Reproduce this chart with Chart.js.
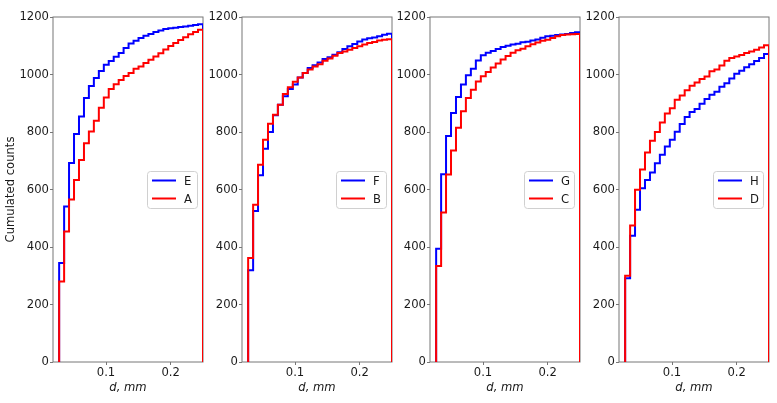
<!DOCTYPE html>
<html>
<head>
<meta charset="utf-8">
<script src="https://cdn.jsdelivr.net/npm/chart.js@4"></script>
<style>
    body { margin: 0; background: #fff; }
    #wrap { position: relative; width: 777px; height: 403px; overflow: hidden; }
    #wrap canvas { position: absolute; top: 0; }
</style>
</head>
<body>
<div id="wrap"></div>
<script>
// Bin edges (d, mm) shared by all panels
const edges = [0.0275, 0.0352, 0.0428, 0.0505, 0.0582, 0.0659, 0.0735, 0.0812, 0.0889, 0.0966,
               0.1042, 0.1119, 0.1196, 0.1272, 0.1349, 0.1426, 0.1503, 0.1579, 0.1656, 0.1733,
               0.1810, 0.1886, 0.1963, 0.2040, 0.2116, 0.2193, 0.2270, 0.2347, 0.2423, 0.2500];
const xTicks = [0.1, 0.2];
const xMin = 0.018;
const xMax = 0.25;

// Cumulated counts per bin
const countsE = [344, 541, 692, 793, 854, 918, 960, 988, 1012, 1034, 1047, 1062, 1075, 1092, 1108,
                 1117, 1127, 1135, 1141, 1148, 1153, 1158, 1161, 1163, 1165, 1167, 1170, 1172, 1175];
const countsA = [280, 454, 565, 633, 703, 761, 802, 839, 884, 920, 950, 966, 981, 995, 1005,
                 1020, 1028, 1040, 1051, 1063, 1074, 1087, 1099, 1110, 1120, 1130, 1140, 1148, 1156];
const countsF = [319, 525, 650, 742, 800, 858, 895, 924, 950, 965, 990, 1005, 1023, 1032, 1042,
                 1054, 1060, 1069, 1077, 1089, 1098, 1106, 1115, 1122, 1126, 1129, 1133, 1138, 1142];
const countsB = [362, 547, 686, 773, 829, 860, 895, 932, 956, 975, 990, 1005, 1017, 1028, 1036,
                 1048, 1056, 1065, 1075, 1080, 1086, 1092, 1098, 1104, 1110, 1113, 1118, 1121, 1123];
const countsG = [394, 653, 786, 866, 922, 965, 997, 1020, 1049, 1067, 1076, 1082, 1089, 1096, 1100,
                 1104, 1107, 1112, 1114, 1118, 1122, 1128, 1133, 1135, 1137, 1139, 1141, 1144, 1147];
const countsC = [334, 520, 652, 736, 815, 872, 918, 947, 976, 994, 1009, 1024, 1038, 1052, 1064,
                 1076, 1084, 1090, 1098, 1105, 1111, 1117, 1121, 1127, 1133, 1137, 1139, 1140, 1141];
const countsH = [291, 439, 530, 604, 633, 659, 691, 721, 750, 773, 801, 828, 852, 870, 880,
                 898, 915, 930, 940, 957, 970, 986, 1003, 1013, 1025, 1036, 1047, 1057, 1071];
const countsD = [300, 475, 599, 670, 729, 770, 800, 833, 864, 883, 912, 927, 945, 961, 972,
                 984, 993, 1011, 1017, 1031, 1048, 1057, 1063, 1068, 1075, 1080, 1086, 1094, 1102];

const blueLabels = ['E', 'F', 'G', 'H'];
const redLabels = ['A', 'B', 'C', 'D'];
const blueCounts = [countsE, countsF, countsG, countsH];
const redCounts = [countsA, countsB, countsC, countsD];

Chart.defaults.font.family = "'DejaVu Sans', sans-serif";
Chart.defaults.font.size = 11.6;
Chart.defaults.color = '#1a1a1a';

const spineColor = '#777';

// outline of a cumulative step histogram
function stepPoints(counts) {
    const last = edges.length - 1;
    const pts = [{ x: edges[0], y: 0 }];
    counts.forEach((c, i) => pts.push({ x: edges[i], y: c }));
    pts.push({ x: edges[last], y: counts[counts.length - 1] });
    pts.push({ x: edges[last], y: 0 });
    return pts;
}

// box around the plot area
const frame = {
    id: 'frame',
    beforeDatasetsDraw(chart) {
        const a = chart.chartArea;
        const ctx = chart.ctx;
        ctx.save();
        ctx.strokeStyle = spineColor;
        ctx.lineWidth = 1;
        ctx.strokeRect(a.left, a.top, a.right - a.left, a.bottom - a.top);
        ctx.restore();
    }
};

// legend box, centre right inside the plot
const boxLegend = {
    id: 'boxLegend',
    afterDatasetsDraw(chart) {
        const a = chart.chartArea;
        const ctx = chart.ctx;
        const w = 50, h = 37;
        const x = a.right - 6 - w;
        const y = (a.top + a.bottom) / 2 - h / 2;
        ctx.save();
        ctx.beginPath();
        ctx.roundRect(x + 0.5, y + 0.5, w, h, 3);
        ctx.fillStyle = 'rgba(255,255,255,0.8)';
        ctx.fill();
        ctx.strokeStyle = '#d0d0d0';
        ctx.lineWidth = 1;
        ctx.stroke();
        ctx.font = "11.6px 'DejaVu Sans', sans-serif";
        ctx.textBaseline = 'middle';
        chart.data.datasets.forEach((ds, i) => {
            const ly = y + 9.5 + i * 18;
            ctx.strokeStyle = ds.borderColor;
            ctx.lineWidth = 2;
            ctx.beginPath();
            ctx.moveTo(x + 5, ly);
            ctx.lineTo(x + 29, ly);
            ctx.stroke();
            ctx.fillStyle = '#1a1a1a';
            ctx.fillText(ds.label, x + 37, ly + 1);
        });
        ctx.restore();
    }
};

const plotLeft = [53, 242, 430, 619];
const plotWidth = 150;
const wrap = document.getElementById('wrap');

for (let p = 0; p < 4; p++) {
    const axisW = p === 0 ? 53 : 40;
    const canvas = document.createElement('canvas');
    canvas.width = axisW + plotWidth + 4;
    canvas.height = 403;
    canvas.style.left = (plotLeft[p] - axisW) + 'px';
    wrap.appendChild(canvas);

    new Chart(canvas.getContext('2d'), {
        type: 'line',
        data: {
            datasets: [{
                label: blueLabels[p],
                data: stepPoints(blueCounts[p]),
                borderColor: '#0000ff',
                borderWidth: 2,
                order: 1
            }, {
                label: redLabels[p],
                data: stepPoints(redCounts[p]),
                borderColor: '#ff0000',
                borderWidth: 2,
                order: 0
            }]
        },
        options: {
            responsive: false,
            animation: false,
            devicePixelRatio: 1,
            layout: { padding: { left: 0, right: 4, top: 17, bottom: 0 } },
            elements: {
                line: { stepped: 'before', tension: 0, fill: false },
                point: { radius: 0 }
            },
            plugins: {
                legend: { display: false },
                tooltip: { enabled: false }
            },
            scales: {
                x: {
                    type: 'linear',
                    min: xMin,
                    max: xMax,
                    afterBuildTicks: scale => {
                        scale.ticks = xTicks.map(v => ({ value: v }));
                    },
                    afterFit: scale => { scale.height = 41; },
                    grid: { drawOnChartArea: false, tickLength: 3, color: spineColor },
                    border: { display: false },
                    ticks: {
                        padding: 1,
                        maxRotation: 0,
                        callback: v => Number(v).toFixed(1)
                    },
                    title: {
                        display: true,
                        text: 'd, mm',
                        font: { style: 'italic' },
                        padding: { top: 0, bottom: 8 }
                    }
                },
                y: {
                    min: 0,
                    max: 1200,
                    afterFit: scale => { scale.width = axisW; },
                    grid: { drawOnChartArea: false, tickLength: 3, color: spineColor },
                    border: { display: false },
                    ticks: { stepSize: 200, padding: 1, callback: v => String(v) },
                    title: {
                        display: p === 0,
                        text: 'Cumulated counts',
                        padding: { top: 4, bottom: 0 }
                    }
                }
            }
        },
        plugins: [frame, boxLegend]
    });
}
</script>
</body>
</html>
